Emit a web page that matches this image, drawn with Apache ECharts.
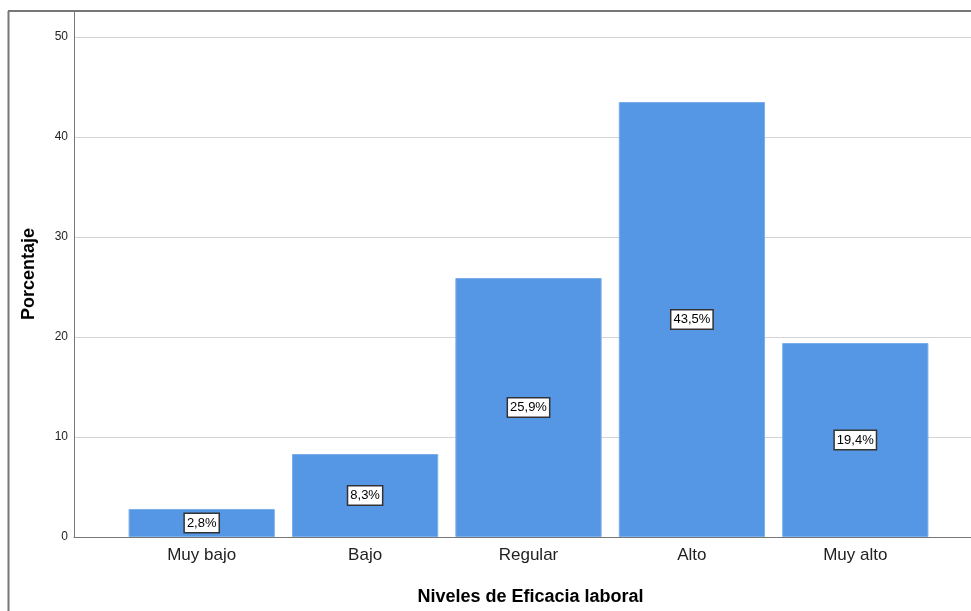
<!DOCTYPE html>
<html>
<head>
<meta charset="utf-8">
<script src="https://cdn.jsdelivr.net/npm/echarts@6/dist/echarts.min.js"></script>
<style>
html,body{margin:0;padding:0;background:#fff;}
#chart{width:971px;height:611px;}
</style>
</head>
<body>
<div id="chart"></div>
<script>
let categories = ['Muy bajo', 'Bajo', 'Regular', 'Alto', 'Muy alto'];
let porcentajes = [2.8, 8.3, 25.9, 43.5, 19.4];
let yMin = 0, yMax = 52.6, yStep = 10;

let chart = echarts.init(document.getElementById('chart'));
let option = {
    backgroundColor: '#fff',
    animation: false,
    textStyle: {fontFamily: 'Liberation Sans, Arial, sans-serif'},
    grid: [
        {left: 74, right: -2, top: 11, bottom: 74, outerBoundsMode: 'none'},   // marco y eje Y
        {left: 120, right: 34, top: 11, bottom: 74, outerBoundsMode: 'none'}   // barras
    ],
    xAxis: [
        {
            type: 'value', gridIndex: 0, min: 0, max: 1,
            axisLine: {show: true, onZero: false, lineStyle: {color: '#777', width: 1}},
            axisTick: {show: false}, axisLabel: {show: false}, splitLine: {show: false},
            name: 'Niveles de Eficacia laboral', nameLocation: 'middle', nameGap: 51,
            nameTextStyle: {color: '#000', fontSize: 18, fontWeight: 'bold', padding: [0, 0, 0, 14]}
        },
        {
            type: 'category', gridIndex: 1, data: categories,
            axisLine: {show: false}, axisTick: {show: false},
            axisLabel: {color: '#222', fontSize: 17, margin: 10}
        }
    ],
    yAxis: [
        {
            type: 'value', gridIndex: 0, min: yMin, max: yMax, interval: yStep,
            axisLine: {show: true, lineStyle: {color: '#777', width: 1}},
            axisTick: {show: false},
            axisLabel: {color: '#222', fontSize: 12, margin: 6, showMaxLabel: false},
            splitLine: {show: true, lineStyle: {color: '#d4d4d4', width: 1}},
            name: 'Porcentaje', nameLocation: 'middle', nameGap: 36, nameRotate: 90,
            nameTextStyle: {color: '#000', fontSize: 18, fontWeight: 'bold'}
        },
        {
            type: 'value', gridIndex: 1, min: yMin, max: yMax, interval: yStep,
            show: false
        }
    ],
    series: [
        {
            name: 'Porcentaje',
            type: 'bar',
            xAxisIndex: 1, yAxisIndex: 1,
            barWidth: '89.5%',
            data: porcentajes,
            itemStyle: {color: '#5596e5', borderColor: '#7aaeea', borderWidth: 1},
            label: {
                show: true, position: 'inside',
                formatter: p => String(p.value).replace('.', ',') + '%',
                color: '#000', fontSize: 13,
                backgroundColor: '#fff', borderColor: '#333', borderWidth: 1.5,
                padding: [3, 2, 2, 2]
            }
        }
    ],
    graphic: [
        {type: 'line', shape: {x1: 8.5, y1: 11, x2: 8.5, y2: 611}, style: {stroke: '#777', lineWidth: 2}, z: 10},
        {type: 'line', shape: {x1: 8, y1: 11, x2: 971, y2: 11}, style: {stroke: '#777', lineWidth: 2}, z: 10}
    ]
};
chart.setOption(option);
</script>
</body>
</html>
